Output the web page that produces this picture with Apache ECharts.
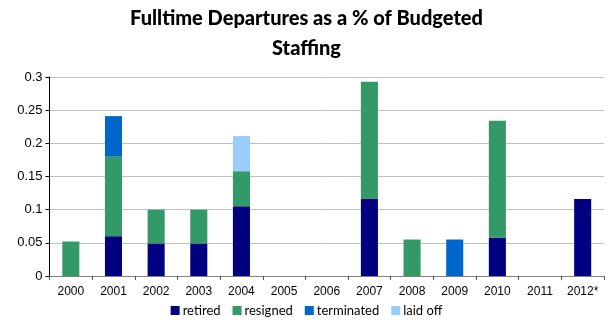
<!DOCTYPE html>
<html>
<head>
<meta charset="utf-8">
<script src="https://cdn.jsdelivr.net/npm/echarts@6/dist/echarts.min.js"></script>
<style>
html,body{margin:0;padding:0;background:#fff;}
#chart{width:613px;height:323px;}
</style>
</head>
<body>
<div id="chart"></div>
<script>
// Fulltime departures by year, split by reason (fraction of budgeted staffing)
const years = ['2000','2001','2002','2003','2004','2005','2006','2007','2008','2009','2010','2011','2012*'];
const retired    = [0,     0.060, 0.049, 0.049, 0.105, 0, 0, 0.117, 0,     0,     0.058, 0, 0.116];
const resigned   = [0.052, 0.120, 0.051, 0.051, 0.053, 0, 0, 0.176, 0.055, 0,     0.176, 0, 0];
const terminated = [0,     0.061, 0,     0,     0,     0, 0, 0,     0,     0.055, 0,     0, 0];
const laidOff    = [0,     0,     0,     0,     0.053, 0, 0, 0,     0,     0,     0,     0, 0];
const yTicks = [0, 0.05, 0.1, 0.15, 0.2, 0.25, 0.3];

const seriesDefs = [
  {name: 'retired', data: retired, color: '#000080'},
  {name: 'resigned', data: resigned, color: '#339966'},
  {name: 'terminated', data: terminated, color: '#0066CC'},
  {name: 'laid off', data: laidOff, color: '#99CCFF'}
];

const chart = echarts.init(document.getElementById('chart'), null, {renderer: 'canvas'});
chart.setOption({
  animation: false,
  title: {
    text: 'Fulltime Departures as a % of Budgeted\nStaffing',
    left: 'center',
    top: -1,
    textStyle: {fontFamily: 'Lato', fontWeight: 900, fontSize: 20, color: '#000', lineHeight: 30}
  },
  legend: {
    data: seriesDefs.map(s => s.name),
    bottom: 1,
    left: 'center',
    itemWidth: 9,
    itemHeight: 9,
    itemGap: 12,
    icon: 'rect',
    textStyle: {fontFamily: 'Lato', fontSize: 13, color: '#000', padding: [0, 0, 0, -2]}
  },
  grid: {left: 49.5, right: 9, top: 77, bottom: 47, containLabel: false},
  xAxis: {
    type: 'category',
    data: years,
    boundaryGap: true,
    axisLine: {lineStyle: {color: '#808080', width: 1}},
    axisTick: {show: true, length: 4, lineStyle: {color: '#555'}},
    axisLabel: {fontFamily: 'Liberation Sans', fontSize: 12, color: '#000', margin: 10, interval: 0}
  },
  yAxis: {
    type: 'value',
    min: 0, max: 0.3, interval: 0.05,
    axisLine: {show: true, lineStyle: {color: '#000', width: 1}},
    axisTick: {show: true, length: 4, lineStyle: {color: '#000'}},
    splitLine: {lineStyle: {color: '#c0c0c0', width: 1}},
    axisLabel: {
      fontFamily: 'Liberation Sans', fontSize: 13, color: '#000', margin: 7,
      formatter: v => {
        const t = yTicks.find(x => Math.abs(x - v) < 1e-9);
        return String(t !== undefined ? t : v);
      }
    }
  },
  series: seriesDefs.map(s => ({
    name: s.name,
    type: 'bar',
    stack: 'total',
    barWidth: '40%',
    data: s.data,
    itemStyle: {color: s.color}
  }))
});
</script>
</body>
</html>
